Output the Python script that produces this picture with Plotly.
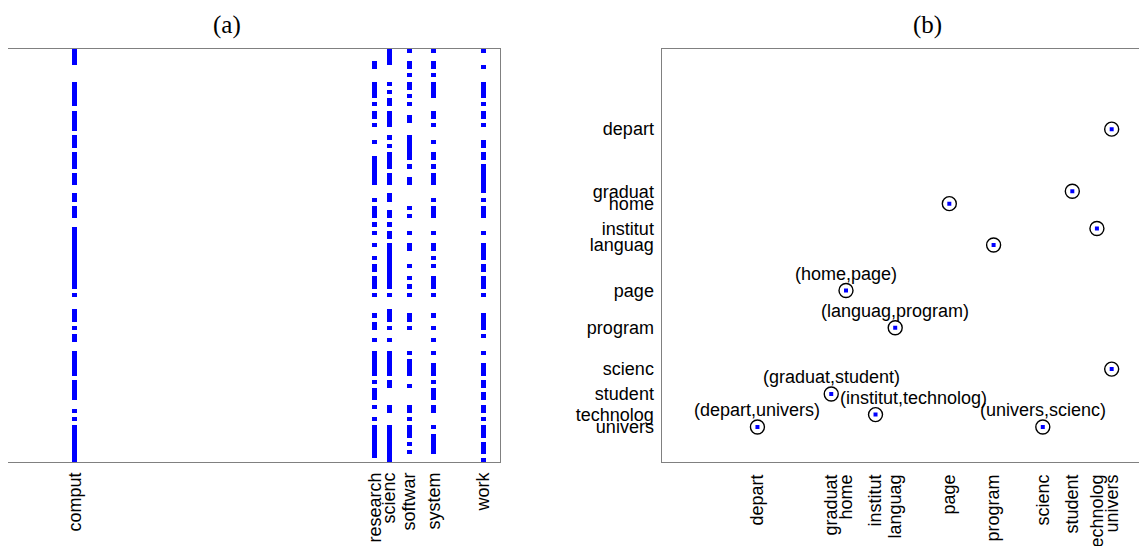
import plotly.graph_objects as go

# ---------------- data: panel (a) spy plot (100 documents x 100 terms) ----------------
n_docs = 100
n_terms = 100

col_terms = ["comput", "research", "scienc", "softwar", "system", "work"]
col_index = [14, 75, 78, 82, 87, 97]

# runs of consecutive non-zero rows (start, end)
comput_runs = [(1, 4), (9, 14), (16, 20), (22, 24), (26, 29), (31, 33), (36, 37), (39, 41),
               (44, 58), (60, 60), (64, 66), (68, 68), (70, 71), (74, 79), (81, 85), (88, 88),
               (90, 90), (92, 100)]
research_runs = [(4, 5), (9, 12), (14, 14), (16, 17), (19, 19), (23, 23), (27, 33), (37, 37),
                 (39, 41), (43, 43), (45, 45), (48, 48), (51, 51), (53, 54), (56, 58), (60, 60),
                 (65, 65), (67, 68), (71, 71), (74, 79), (81, 81), (83, 85), (87, 87), (90, 90),
                 (92, 99)]
scienc_runs = [(1, 4), (9, 9), (11, 11), (13, 14), (16, 19), (22, 22), (24, 24), (26, 29),
               (31, 33), (36, 37), (40, 41), (43, 43), (45, 46), (48, 58), (60, 60), (64, 66),
               (68, 68), (71, 71), (74, 79), (81, 82), (87, 88), (92, 100)]
softwar_runs = [(1, 1), (4, 5), (7, 7), (9, 10), (12, 12), (14, 14), (17, 18), (22, 27),
                (29, 29), (32, 33), (39, 39), (41, 41), (45, 45), (48, 49), (53, 53), (56, 56),
                (58, 58), (60, 60), (65, 66), (68, 68), (74, 74), (76, 79), (82, 82), (87, 88),
                (90, 90), (92, 94), (96, 96), (98, 98)]
system_runs = [(1, 1), (4, 5), (7, 7), (9, 12), (16, 17), (19, 19), (23, 23), (26, 27),
               (29, 29), (31, 33), (37, 37), (39, 41), (45, 45), (48, 49), (51, 51), (53, 53),
               (56, 58), (60, 60), (65, 65), (68, 68), (71, 71), (74, 74), (77, 79), (81, 81),
               (83, 85), (87, 88), (92, 92), (94, 98)]
work_runs = [(1, 1), (5, 5), (9, 12), (14, 14), (16, 17), (19, 19), (23, 24), (26, 27),
             (29, 35), (37, 37), (39, 41), (45, 45), (48, 51), (53, 54), (56, 58), (60, 60),
             (65, 68), (70, 70), (74, 74), (77, 79), (81, 82), (84, 85), (87, 88), (90, 90),
             (92, 94), (96, 98), (100, 100)]
runs_by_col = [comput_runs, research_runs, scienc_runs, softwar_runs, system_runs, work_runs]

# ---------------- data: panel (b) term pairs ----------------
terms_b = ["depart", "graduat", "home", "institut", "languag", "page", "program",
           "scienc", "student", "technolog", "univers"]
terms_b_index = [20, 35, 38, 44, 48, 59, 68, 78, 84, 89, 92]
pairs = [("depart", "univers"), ("graduat", "student"), ("home", "page"),
         ("institut", "technolog"), ("languag", "program"), ("scienc", "univers")]
pair_labels = ["(depart,univers)", "(graduat,student)", "(home,page)",
               "(institut,technolog)", "(languag,program)", "(univers,scienc)"]
label_xshift = [0, 0, 0, 38, 0, 0]

# ---------------- build matrix for spy plot ----------------
z = [[None] * n_terms for _ in range(n_docs)]
for c, runs in zip(col_index, runs_by_col):
    for a, b in runs:
        for r in range(a, b + 1):
            z[r - 1][c - 1] = 1

pos = dict(zip(terms_b, terms_b_index))
px_, py_ = [], []
for a, b in pairs:
    px_ += [pos[a], pos[b]]
    py_ += [pos[b], pos[a]]

# ---------------- geometry (page pixels; the page body has an 8px margin) ----------------
W, H = 1147, 546
OFF = 8
a_left, a_right, top, bottom = 8.3 - OFF, 500.3 - OFF, 48.5 - OFF, 462.2 - OFF
b_left = 661.5 - OFF
b_right = b_left + (a_right - a_left)

FONT = "Liberation Sans, Arial, Helvetica, sans-serif"
TICKFONT = dict(family=FONT, size=18, color="black")
LINEC = "#808080"

fig = go.Figure()
fig.add_trace(go.Heatmap(
    z=z, x=list(range(1, n_terms + 1)), y=list(range(1, n_docs + 1)),
    colorscale=[[0, "#0000ff"], [1, "#0000ff"]], zmin=0, zmax=1,
    showscale=False, xaxis="x", yaxis="y", hoverinfo="skip"))

fig.add_trace(go.Scatter(
    x=px_, y=py_, mode="markers", xaxis="x2", yaxis="y2",
    marker=dict(symbol="circle-open", size=14, color="black", line=dict(width=1.4)),
    hoverinfo="skip", showlegend=False))
fig.add_trace(go.Scatter(
    x=px_, y=py_, mode="markers", xaxis="x2", yaxis="y2",
    marker=dict(symbol="square", size=4, color="#0000ff", line=dict(width=0)),
    hoverinfo="skip", showlegend=False))

for (a, b), lab, xs in zip(pairs, pair_labels, label_xshift):
    fig.add_annotation(x=pos[a], y=pos[b], xref="x2", yref="y2", text=lab,
                       showarrow=False, xanchor="center", yanchor="middle",
                       xshift=xs, yshift=17, font=TICKFONT)

ydom = [(H - bottom) / H, (H - top) / H]
fig.update_layout(
    width=W, height=H, margin=dict(l=0, r=0, t=0, b=0),
    paper_bgcolor="white", plot_bgcolor="white", showlegend=False,
    xaxis=dict(domain=[a_left / W, a_right / W], range=[0.5, n_terms + 0.5],
               tickmode="array", tickvals=col_index, ticktext=col_terms, tickangle=-90,
               tickfont=TICKFONT, showgrid=False, zeroline=False, ticks="",
               showline=True, linecolor=LINEC, linewidth=1, mirror=True,
               ticklabelstandoff=2),
    yaxis=dict(domain=ydom, range=[n_docs + 0.5, 0.5], showticklabels=False,
               showgrid=False, zeroline=False, ticks="",
               showline=True, linecolor=LINEC, linewidth=1, mirror=True),
    xaxis2=dict(domain=[b_left / W, min(b_right / W, 1.0)],
                range=[0.5, n_terms + 0.5],
                tickmode="array", tickvals=terms_b_index, ticktext=terms_b, tickangle=-90,
                tickfont=TICKFONT, showgrid=False, zeroline=False, ticks="",
                showline=True, linecolor=LINEC, linewidth=1, mirror=True,
                anchor="y2", ticklabelstandoff=4),
    yaxis2=dict(domain=ydom, range=[n_terms + 0.5, 0.5], anchor="x2",
                tickmode="array", tickvals=terms_b_index, ticktext=terms_b,
                tickfont=TICKFONT, showgrid=False, zeroline=False, ticks="",
                showline=True, linecolor=LINEC, linewidth=1, mirror=False,
                ticklabelstandoff=3),
)

TITLEFONT = dict(family="Liberation Serif, Times New Roman, serif", size=25, color="black")
fig.add_annotation(x=(227 - OFF) / W, y=(H - (25 - OFF)) / H, xref="paper", yref="paper",
                   text="(a)", showarrow=False, xanchor="center", yanchor="middle",
                   font=TITLEFONT)
fig.add_annotation(x=(927 - OFF) / W, y=(H - (25 - OFF)) / H, xref="paper", yref="paper",
                   text="(b)", showarrow=False, xanchor="center", yanchor="middle",
                   font=TITLEFONT)

fig.write_html("out.html")
